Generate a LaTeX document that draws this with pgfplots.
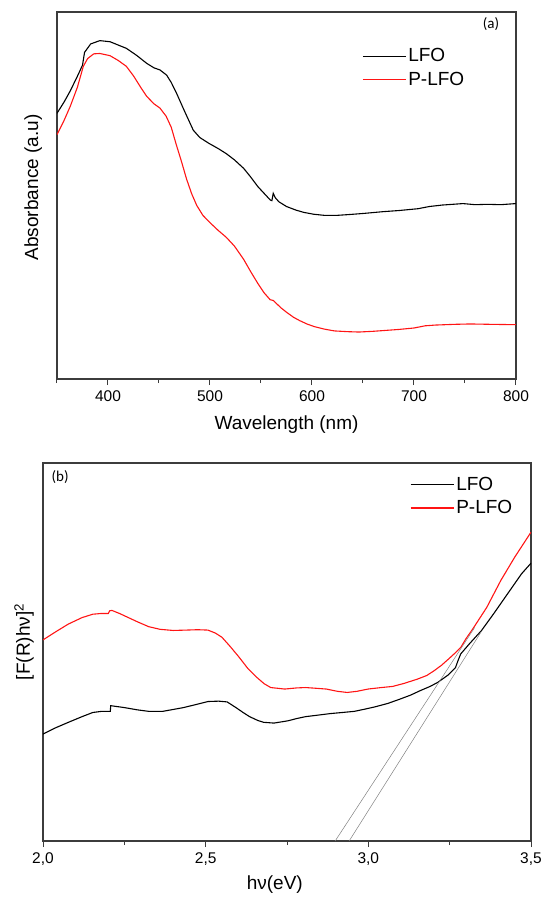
\documentclass[border=0pt]{standalone}
\usepackage{fontspec}
\setmainfont{Liberation Sans}
\newfontfamily\calibri{Carlito}
\usepackage{pgfplots}
\pgfplotsset{compat=1.18}
\definecolor{axgray}{RGB}{60,60,60}
\definecolor{lfored}{RGB}{255,20,20}
\pgfplotsset{
  common/.style={
    scale only axis,
    ymin=0, ymax=100,
    ytick=\empty,
    axis line style={line width=1.2pt, color=axgray},
    xtick pos=bottom, tick align=outside,
    major tick length=6pt, minor tick length=4pt,
    every tick/.style={line width=1pt, color=axgray},
    tick label style={font=\fontsize{15.5}{18}\selectfont, yshift=-2pt},
    label style={font=\fontsize{19}{22}\selectfont},
    legend cell align=left,
    legend style={draw=none, fill=none, anchor=north west, inner xsep=0pt, inner ysep=0pt,
      font=\fontsize{19}{22}\selectfont, row sep=4.5pt},
    legend image code/.code={\draw[#1] (0pt,0pt) -- (43pt,0pt);},
  },
  lfo/.style={black, line width=1.1pt},
  plfo/.style={lfored, line width=1.1pt},
}
\begin{document}
\begin{tikzpicture}
\path (0pt,0pt) rectangle (545pt,-898pt);
% ---------------- panel (a)
\begin{axis}[common,
  at={(57pt,-379pt)}, anchor=south west,
  width=459pt, height=367pt,
  xmin=350, xmax=800,
  xtick={400,500,600,700,800}, xticklabels={400,500,600,700,800},
  minor xtick={350,450,550,650,750},
  xlabel={Wavelength (nm)}, ylabel={Absorbance (a.u)},
  xlabel style={at={(axis description cs:0.5,-0.125)}, anchor=center},
  ylabel style={at={(axis description cs:-0.052,0.522)}, anchor=center, rotate=0},
  legend style={at={(axis description cs:0.6645,0.906)}},
]
\addplot[lfo] coordinates {
(350,72.4)(357,75.5)(363,78.5)(370,82.5)(375,85.5)(377,89.0)(383,91.3)(392,92.2)(402,91.9)(410,91.0)
(418,90.1)(428,88.2)(438,86.0)(445,84.8)(451,84.2)(457.5,82.8)(462,80.8)(467.3,77.8)(475,73.0)
(483.6,67.8)(490,65.8)(499,64.2)(508,62.8)(516,61.4)(524,59.7)(533,57.4)(540,55.0)(547,52.4)
(554,50.3)(559,48.8)(560.7,48.6)(562,50.6)(564,49.4)(567.5,48.3)(575,47.0)(584.5,46.0)(592,45.4)
(601.6,44.9)(611.8,44.6)(625,44.6)(635.7,44.8)(650,45.1)(669.8,45.6)(685,45.9)(703.9,46.4)
(715,47.0)(727.7,47.4)(748,47.8)(760,47.5)(772,47.6)(785,47.5)(800,47.8)
};
\addlegendentry{LFO}
\addplot[plfo] coordinates {
(350,66.6)(357,70.5)(363,74.3)(370,79.5)(375.8,85.2)(380,87.3)(386,88.6)(392,88.7)(402,88.1)
(410,86.8)(418,85.2)(425,82.6)(432,79.5)(438,77.0)(445,75.0)(451,73.8)(457,71.6)(462,68.6)
(467,63.8)(472,59.3)(477,54.5)(482,50.5)(487,47.3)(493,44.6)(500,42.6)(508,40.5)(516,38.6)
(524,36.2)(533,32.6)(540,29.2)(547,26.0)(553,23.5)(559,21.6)(562,21.4)(565,20.6)(570,19.3)
(575,18.2)(582,16.8)(588,15.9)(595,15.0)(602,14.3)(612,13.6)(622,13.1)(635,12.9)(646,12.8)
(660,13.0)(670,13.2)(685,13.5)(700,13.9)(711,14.5)(721,14.7)(740,14.9)(755,15.0)(775,14.9)(800,14.8)
};
\addlegendentry{P-LFO}
\node[font=\calibri\fontsize{15}{17}\selectfont] at (rel axis cs:0.9455,0.967) {(a)};
\end{axis}
% ---------------- panel (b)
\begin{axis}[common,
  at={(43pt,-841pt)}, anchor=south west,
  width=488pt, height=378pt,
  xmin=2, xmax=3.5,
  xtick={2,2.5,3,3.5}, xticklabels={{2,0},{2,5},{3,0},{3,5}},
  minor xtick={2.25,2.75,3.25},
  xlabel={hν(eV)}, ylabel={[F(R)hν]\textsuperscript{2}},
  xlabel style={at={(axis description cs:0.475,-0.116)}, anchor=center},
  ylabel style={at={(axis description cs:-0.039,0.527)}, anchor=center, rotate=0},
  legend style={at={(axis description cs:0.752,0.968)}},
]
\addplot[lfo] coordinates {
(2.0,28.3)(2.04,30.0)(2.078,31.4)(2.12,32.9)(2.153,34.0)(2.18,34.3)(2.207,34.3)(2.208,35.8)(2.25,35.3)
(2.29,34.7)(2.325,34.3)(2.368,34.3)(2.40,34.8)(2.432,35.3)(2.47,36.1)(2.507,36.9)(2.54,37.0)(2.566,36.8)
(2.593,35.3)(2.615,34.0)(2.635,32.9)(2.66,31.9)(2.678,31.4)(2.71,31.2)(2.753,31.8)(2.78,32.4)(2.807,32.9)
(2.845,33.3)(2.882,33.7)(2.92,34.0)(2.957,34.3)(2.99,34.9)(3.021,35.5)(3.06,36.4)(3.096,37.5)(3.13,38.6)
(3.16,39.8)(3.19,40.9)(3.214,42.0)(3.245,43.9)(3.268,45.9)(3.276,47.8)(3.284,49.5)(3.31,52.1)(3.348,55.7)
(3.385,60.1)(3.428,65.4)(3.471,70.7)(3.5,73.5)
};
\addlegendentry{LFO}
\addplot[plfo] coordinates {
(2.0,53.2)(2.04,55.4)(2.078,57.4)(2.12,59.1)(2.153,60.0)(2.18,60.2)(2.201,60.2)(2.205,60.9)(2.212,61.0)
(2.235,60.2)(2.26,59.2)(2.29,58.0)(2.325,56.7)(2.36,56.0)(2.4,55.7)(2.44,55.8)(2.475,55.9)(2.507,55.8)
(2.53,55.0)(2.55,53.9)(2.575,51.5)(2.603,48.6)(2.63,45.6)(2.657,43.3)(2.68,41.6)(2.7,40.6)(2.743,40.2)
(2.78,40.5)(2.807,40.6)(2.84,40.4)(2.871,40.2)(2.905,39.6)(2.935,39.3)(2.965,39.6)(2.999,40.2)(3.04,40.6)
(3.075,40.9)(3.11,41.7)(3.15,42.8)(3.18,43.8)(3.203,45.1)(3.225,46.5)(3.246,48.1)(3.265,49.6)(3.284,51.2)
(3.30,53.5)(3.321,56.1)(3.364,61.8)(3.407,68.9)(3.45,75.1)(3.5,81.7)
};
\addlegendentry{P-LFO}
\addplot[gray, line width=0.5pt, forget plot] coordinates {(2.898,0)(3.327,56.5)};
\addplot[gray, line width=0.5pt, forget plot] coordinates {(2.941,0)(3.348,55.5)};
\node[font=\calibri\fontsize{15}{17}\selectfont] at (rel axis cs:0.035,0.963) {(b)};
\end{axis}
\end{tikzpicture}
\end{document}
